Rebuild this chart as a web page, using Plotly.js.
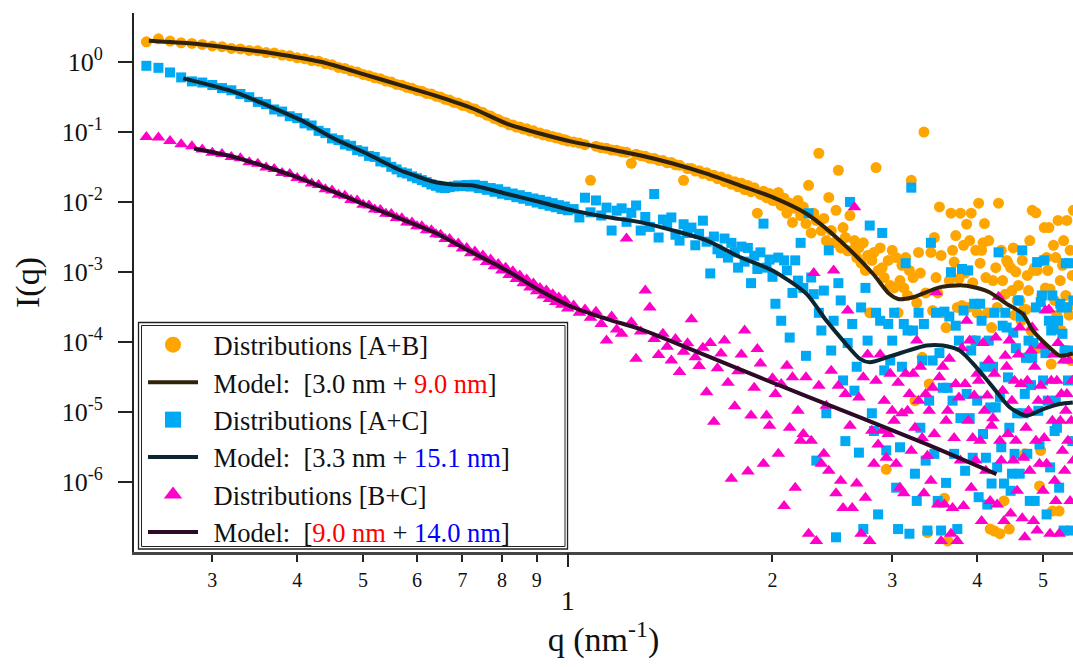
<!DOCTYPE html>
<html><head><meta charset="utf-8">
<script src="https://cdn.plot.ly/plotly-3.0.1.min.js"></script>
<style>html,body{margin:0;padding:0;background:#fff;}#chart{width:1073px;height:667px;}</style>
</head><body><div id="chart"></div>
<script>
// ---------- measured q grid (nm^-1) ----------
const qLow = [0.24,0.25,0.26,0.27,0.28,0.29,0.30,0.31,0.32,0.33,0.34,0.35,0.36,0.37,0.38,0.39,0.40,0.41,0.42,0.43,
0.44,0.45,0.46,0.47,0.48,0.49,0.50,0.51,0.52,0.53,0.54,0.55,0.56,0.57,0.58,0.59,0.60,0.61,0.62,0.63,
0.64,0.65,0.66,0.67,0.68,0.69,0.70,0.71,0.72,0.73,0.74,0.75,0.76,0.77,0.78,0.79,0.80,0.81,0.82,0.83,
0.84,0.85,0.86,0.87,0.88,0.89,0.90,0.91,0.92,0.93,0.94,0.95,0.96,0.97,0.98,0.99,1.00];
const qMid = [1.02,1.04,1.06,1.08,1.10,1.12,1.14,1.16,1.18,1.20,1.22,1.24,1.26,1.28,1.30,1.32,1.34,1.36,1.38,1.40,
1.42,1.44,1.46,1.48,1.50,1.52,1.54,1.56,1.58,1.60,1.62,1.64,1.66,1.68,1.70,1.72,1.74,1.76,1.78,1.80,
1.82,1.84,1.86,1.88,1.90,1.92,1.94,1.96,1.98,2.00];
const qHigh = [2.02,2.04,2.06,2.08,2.10,2.12,2.14,2.16,2.18,2.20,2.22,2.24,2.26,2.28,2.30,2.32,2.34,2.36,2.38,2.40,
2.42,2.44,2.46,2.48,2.50,2.52,2.54,2.56,2.58,2.60,2.62,2.64,2.66,2.68,2.70,2.72,2.74,2.76,2.78,2.80,
2.82,2.84,2.86,2.88,2.90,2.92,2.94,2.96,2.98,3.00,3.02,3.04,3.06,3.08,3.10,3.12,3.14,3.16,3.18,3.20,
3.22,3.24,3.26,3.28,3.30,3.32,3.34,3.36,3.38,3.40,3.42,3.44,3.46,3.48,3.50,3.52,3.54,3.56,3.58,3.60,
3.62,3.64,3.66,3.68,3.70,3.72,3.74,3.76,3.78,3.80,3.82,3.84,3.86,3.88,3.90,3.92,3.94,3.96,3.98,4.00,
4.02,4.04,4.06,4.08,4.10,4.12,4.14,4.16,4.18,4.20,4.22,4.24,4.26,4.28,4.30,4.32,4.34,4.36,4.38,4.40,
4.42,4.44,4.46,4.48,4.50,4.52,4.54,4.56,4.58,4.60,4.62,4.64,4.66,4.68,4.70,4.72,4.74,4.76,4.78,4.80,
4.82,4.84,4.86,4.88,4.90,4.92,4.94,4.96,4.98,5.00,5.02,5.04,5.06,5.08,5.10,5.12,5.14,5.16,5.18,5.20,
5.22,5.24,5.26,5.28,5.30,5.32,5.34,5.36,5.38,5.40,5.42,5.44,5.46,5.48,5.50,5.52,5.54];

// ---------- Distributions [A+B] ----------
const iABLow = [1.95,2.15,2.00,1.89,1.85,1.79,1.70,1.66,1.57,1.54,1.47,1.45,1.37,1.35,1.26,1.23,1.15,1.12,1.05,1.03,
0.955,0.915,0.84,0.81,0.75,0.72,0.665,0.640,0.595,0.578,0.535,0.520,0.480,0.468,0.436,0.422,0.393,0.384,0.356,0.350,
0.325,0.316,0.294,0.286,0.265,0.259,0.240,0.236,0.219,0.214,0.196,0.190,0.174,0.170,0.156,0.151,0.140,0.137,0.127,0.126,
0.118,0.118,0.110,0.111,0.103,0.104,0.0970,0.0965,0.0912,0.0915,0.0868,0.0862,0.0825,0.0818,0.0782,0.0775,0.0742];
const iABMid = [0.0722,0.0695,0.0660,0.0204,0.0628,0.0595,0.0585,0.0552,0.0548,0.0521,0.0512,0.0357,0.0482,0.0458,0.0450,0.0420,0.0418,0.0392,0.0390,0.0362,
0.0365,0.0340,0.0335,0.0204,0.0300,0.0302,0.0276,0.0280,0.0255,0.0262,0.0236,0.0240,0.0215,0.0228,0.0196,0.0210,0.0180,0.0195,0.0165,0.0185,
0.0150,0.0172,0.0140,0.0160,6.9e-3,0.0128,0.0142,0.0115,0.0132,0.0105];
const iABHigh = [1.05e-2,1.37e-2,8.9e-3,1.13e-2,6.9e-3,9.6e-3,5.1e-3,8.1e-3,1.05e-2,6.4e-3,
8.5e-3,4.9e-3,1.73e-2,3.6e-3,6.9e-3,5.45e-3,4.97e-2,3.9e-3,5.8e-3,2.8e-3,
1.16e-2,3.9e-3,2.6e-3,7.6e-3,2.84e-2,2.2e-3,4.3e-3,3.1e-3,2.0e-3,6.4e-3,
2.03e-3,2.8e-3,1.6e-3,2.2e-3,1.33e-3,2.6e-3,1.05e-3,1.72e-3,2.6e-4,1.46e-3,
1.9e-3,3.1e-2,1.05e-3,2.2e-3,1.15e-3,8.3e-4,1.5e-6,1.46e-3,6.4e-4,2.03e-3,
5.9e-4,1.6e-3,2.6e-4,7.5e-4,1.24e-3,5.9e-4,1.6e-3,4.6e-4,1.05e-3,2.04e-2,
8.3e-4,1.44e-5,3.6e-4,1.9e-3,9.6e-4,6.0e-5,0.1,5.0e-4,1.87e-7,2.5e-5,
1.9e-3,2.8e-4,3.1e-3,8.3e-4,5.0e-4,8.5e-3,1.72e-3,2.6e-4,5.8e-7,1.6e-4,
1.42e-7,7.5e-4,6.9e-3,2.03e-3,1.38e-3,3.3e-3,3.1e-4,8.0e-4,6.9e-3,3.3e-4,
2.4e-3,9.6e-4,4.8e-3,3.1e-4,2.8e-3,6.9e-3,7.0e-4,1.04e-4,2.03e-3,2.6e-4,
9.6e-3,1.33e-3,2.03e-3,2.6e-3,4.9e-3,8.3e-4,2.6e-4,2.8e-3,2.1e-7,1.6e-4,
7.5e-4,1.97e-7,1.15e-3,3.1e-4,9.6e-3,1.8e-7,2.03e-3,7.5e-4,5.3e-7,4.8e-4,
1.46e-3,1.33e-3,2.1e-7,1.15e-3,5.4e-4,2.2e-3,2.4e-4,1.0e-3,3.9e-4,6.4e-4,
3.9e-4,2.0e-4,1.46e-3,2.9e-4,2.5e-6,2.9e-4,8.9e-4,5.4e-4,2.8e-3,1.45e-4,
7.6e-3,1.05e-3,1.15e-3,7.0e-3,1.05e-3,8.1e-5,8.7e-7,2.8e-6,4.6e-4,1.46e-3,
4.3e-3,5.9e-4,1.6e-3,1.05e-3,4.3e-3,5.7e-4,4.8e-5,3.8e-7,2.4e-3,3.9e-4,
1.6e-3,2.4e-4,5.45e-3,3.8e-7,7.5e-4,1.45e-4,1.24e-3,2.8e-3,7.5e-5,4.6e-4,
5.45e-3,3.1e-4,2.4e-4,2.03e-3,5.4e-5,8.9e-4,7.6e-3];

// ---------- Distributions [A+C] ----------
const iACLow = [0.885,0.828,0.711,0.604,0.530,0.510,0.470,0.425,0.395,0.350,0.315,0.270,0.250,0.210,0.196,0.168,0.158,0.133,0.124,0.104,
0.0965,0.0810,0.0765,0.0665,0.0635,0.0550,0.0525,0.0455,0.0440,0.0380,0.0368,0.0318,0.0292,0.0265,0.0255,0.0232,0.0218,0.0205,0.0192,0.0178,
0.0170,0.0160,0.0158,0.0163,0.0167,0.0172,0.0168,0.0175,0.0166,0.0176,0.0158,0.0170,0.0149,0.0158,0.0140,0.0152,0.0131,0.0140,0.0125,0.0132,
0.0117,0.0125,0.0111,0.0118,0.0104,0.0112,0.0098,0.0107,0.0093,0.0101,0.0088,0.0096,0.0084,0.0090,0.0079,0.0086,0.0076];
const iACMid = [7.9e-3,6.0e-3,1.15e-2,7.1e-3,1.05e-2,6.4e-3,8.3e-3,3.9e-3,7.5e-3,8.1e-3,5.2e-3,7.0e-3,8.9e-3,3.9e-3,6.1e-3,4.4e-3,1.3e-2,3.1e-3,5.6e-3,4.7e-3,
6.0e-3,3.4e-3,2.8e-3,4.8e-3,3.6e-3,4.3e-3,2.4e-3,3.5e-3,5.4e-3,2.7e-3,9.5e-4,3.2e-3,2.1e-3,1.85e-3,3.0e-3,1.6e-3,2.6e-3,1.9e-3,1.15e-3,2.3e-3,
1.4e-3,2.2e-3,6.9e-4,1.7e-3,1.1e-3,1.9e-3,4.9e-3,1.15e-3,1.5e-3,8.5e-4];
const iACHigh = [3.5e-4,1.6e-3,2.0e-4,1.46e-3,1.05e-3,1.15e-4,5.0e-4,1.46e-3,7.5e-4,2.6e-3,
5.9e-4,6.3e-5,6.9e-3,8.3e-4,4.8e-4,2.0e-6,2.6e-4,1.45e-4,5.4e-4,9.5e-6,
2.03e-3,7.5e-5,2.0e-4,1.6e-7,6.9e-4,3.9e-4,2.8e-5,3.8e-6,9.6e-5,1.0e-2,
1.8e-4,2.0e-5,4.4e-5,2.6e-6,3.1e-4,2.1e-7,5.9e-4,1.04e-4,4.6e-3,9.5e-6,
5.3e-6,2.6e-4,3.4e-7,2.0e-4,3.6e-3,3.9e-5,2.8e-6,1.8e-4,5.4e-5,1.04e-4,
2.6e-4,8.2e-7,2.1e-7,3.1e-6,4.4e-5,1.8e-4,1.33e-3,1.45e-4,1.8e-7,1.6e-2,
1.45e-4,1.3e-6,5.3e-7,2.6e-4,5.9e-6,5.4e-5,1.8e-4,2.0e-6,2.0e-7,1.44e-5,
2.6e-3,5.4e-5,2.5e-6,2.6e-4,5.3e-7,6.9e-5,2.0e-7,2.2e-5,2.7e-4,9.6e-7,
2.2e-5,2.3e-4,9.9e-4,1.44e-5,2.5e-6,1.7e-4,2.1e-7,1.04e-4,8.1e-6,1.1e-3,
2.8e-4,1.43e-6,1.8e-5,1.05e-3,8.1e-6,7.5e-5,2.2e-6,3.5e-4,1.04e-4,1.44e-5,
6.0e-7,3.5e-4,2.0e-4,4.8e-6,4.4e-5,2.2e-6,4.7e-7,1.04e-4,1.15e-5,9.4e-7,
4.4e-5,2.6e-4,1.15e-5,1.6e-6,1.9e-3,1.6e-5,3.1e-6,1.7e-4,9.4e-7,2.6e-4,
1.6e-4,3.1e-5,5.9e-6,7.4e-7,1.3e-6,1.35e-4,2.5e-6,8.1e-5,9.5e-6,3.9e-4,
1.3e-6,2.3e-4,2.03e-3,9.5e-6,1.8e-5,5.9e-5,2.5e-6,1.04e-4,5.3e-7,2.4e-5,
5.9e-5,9.6e-5,5.3e-7,3.1e-4,1.38e-3,1.03e-5,3.4e-6,3.7e-4,4.6e-4,2.8e-5,
1.46e-3,6.9e-5,3.4e-7,1.44e-5,2.0e-4,1.6e-6,1.45e-4,4.6e-4,1.5e-4,5.3e-6,
1.44e-5,5.9e-6,2.0e-4,8.2e-7,3.5e-4,3.1e-4,1.3e-4,2.0e-7,7.5e-5,1.33e-3,
3.1e-4,2.8e-5,1.33e-3,7.5e-5,2.0e-7,3.8e-6,3.9e-4];

// ---------- Distributions [B+C] ----------
const iBCLow = [0.0851,0.0834,0.0745,0.0669,0.0626,0.0560,0.0505,0.0485,0.0440,0.0420,0.0370,0.0352,0.0312,0.0296,0.0260,0.0250,0.0220,0.0208,0.0183,0.0175,
0.0152,0.0146,0.0127,0.0123,0.0107,0.0105,9.1e-3,8.9e-3,7.8e-3,7.7e-3,6.8e-3,6.7e-3,5.9e-3,5.85e-3,5.1e-3,5.1e-3,4.5e-3,4.5e-3,3.95e-3,3.95e-3,
3.45e-3,3.4e-3,2.95e-3,2.95e-3,2.5e-3,2.55e-3,2.15e-3,2.2e-3,1.85e-3,1.95e-3,1.6e-3,1.72e-3,1.38e-3,1.5e-3,1.2e-3,1.3e-3,1.05e-3,1.15e-3,9.0e-4,1.02e-3,
7.9e-4,8.9e-4,6.9e-4,7.8e-4,6.0e-4,6.8e-4,5.3e-4,5.9e-4,4.6e-4,5.4e-4,4.1e-4,4.8e-4,3.7e-4,4.3e-4,3.4e-4,3.9e-4,3.0e-4];
const iBCMid = [3.3e-4,2.6e-4,2.9e-4,2.2e-4,2.7e-4,1.8e-4,1.04e-4,2.3e-4,1.5e-4,1.3e-4,3.0e-3,1.9e-4,5.7e-5,1.4e-4,5.4e-4,3.1e-4,1.1e-4,6.5e-5,1.3e-4,8.5e-5,
5.4e-5,1.1e-4,3.7e-5,7.2e-5,9.5e-5,2.1e-4,6.0e-5,4.5e-5,8.2e-5,1.9e-5,9.6e-5,7.2e-6,4.2e-5,6.8e-5,1.04e-4,2.6e-5,1.1e-6,1.2e-5,3.8e-5,6.6e-5,
1.45e-4,1.4e-6,8.8e-6,2.2e-5,7.9e-5,4.9e-5,1.8e-6,8.8e-6,6.3e-6,3.0e-5];
const iBCHigh = [1.8e-5,2.5e-6,2.5e-5,4.5e-7,4.56e-5,5.9e-6,3.1e-5,8.2e-7,1.03e-5,3.84e-6,
4.8e-6,3.1e-5,1.8e-7,3.84e-6,9.6e-4,1.42e-7,2.36e-5,1.8e-6,2.5e-6,1.22e-5,
1.43e-6,3.87e-5,1.05e-3,6.8e-7,2.36e-5,1.03e-6,4.2e-7,1.8e-5,2.8e-4,6.3e-6,
4.2e-7,8.4e-3,9.4e-7,1.6e-5,1.8e-7,3.1e-5,5.9e-7,6.6e-5,1.42e-7,5.34e-6,
1.8e-6,2.78e-5,3.4e-6,6.6e-5,5.34e-6,1.44e-5,2.2e-6,4.8e-6,3.5e-5,1.03e-5,
7.4e-6,1.8e-6,2.6e-5,8.2e-7,9.5e-6,6.8e-7,3.5e-5,1.03e-5,1.8e-5,2.76e-6,
3.5e-5,5.9e-6,1.04e-4,1.44e-5,4.4e-5,4.2e-6,6.8e-7,1.8e-5,2.34e-6,1.03e-5,
1.03e-6,2.2e-5,4.8e-6,5.1e-4,4.7e-7,3.1e-5,1.42e-7,4.4e-5,4.7e-7,7.4e-6,
1.03e-5,5.7e-5,1.8e-7,4.2e-7,4.2e-6,2.5e-5,1.42e-7,1.6e-5,2.0e-6,8.1e-5,
4.5e-7,2.5e-5,2.0e-4,7.4e-6,1.04e-4,8.2e-7,4.2e-6,1.7e-5,2.0e-6,3.5e-5,
2.78e-5,3.84e-6,2.74e-7,9.6e-5,1.03e-5,1.43e-6,1.7e-5,5.4e-5,5.3e-7,6.3e-6,
8.1e-6,3.5e-5,1.15e-4,4.7e-7,4.4e-4,3.84e-6,2.0e-6,2.0e-5,2.74e-7,6.3e-5,
4.4e-5,4.8e-6,1.04e-4,3.5e-7,1.44e-5,2.0e-6,2.78e-5,3.84e-6,7.4e-7,6.6e-5,
1.6e-4,2.5e-5,3.0e-7,2.2e-6,1.6e-7,5.9e-6,2.78e-5,1.03e-5,1.43e-6,7.5e-5,
1.6e-4,2.74e-7,4.4e-5,3.84e-6,2.0e-7,1.44e-5,1.8e-6,2.36e-5,8.8e-5,7.4e-7,
4.2e-6,2.8e-4,1.8e-6,1.44e-5,2.9e-4,1.8e-7,2.78e-5,7.4e-6,6.6e-5,1.03e-6,
5.3e-7,2.78e-5,9.6e-5,1.8e-7,7.4e-6,1.8e-5,2.76e-6,5.4e-5,1.43e-6,1.03e-5,
1.8e-5,3.84e-6,5.4e-5,5.3e-7,7.4e-6,2.78e-5,2.0e-6];

// ---------- model curves ----------
const modelABq = [0.242,0.28,0.323,0.370,0.433,0.506,0.567,0.635,0.725,0.813,0.910,1.017,1.140,1.276,1.427,1.600,1.790,2.00,2.244,2.512,
2.81,2.97,3.06,3.21,3.52,3.81,4.04,4.17,4.42,4.67,4.83,5.11,5.29,5.53];
const modelABi = [2.02,1.84,1.57,1.33,1.01,0.652,0.468,0.337,0.217,0.132,0.0952,0.0722,0.0580,0.0465,0.0354,0.0254,0.0173,0.0117,6.79e-3,2.82e-3,
9.4e-4,4.85e-4,4.1e-4,4.3e-4,6.0e-4,6.4e-4,5.73e-4,5.1e-4,3.49e-4,2.5e-4,1.45e-4,8.3e-5,6.34e-5,6.8e-5];
const modelACq = [0.272,0.323,0.361,0.405,0.453,0.506,0.567,0.600,0.635,0.675,0.725,0.813,0.910,1.017,1.140,1.276,1.427,1.600,1.790,2.00,2.244,2.40,
2.54,2.69,2.78,3.00,3.37,3.56,3.77,3.99,4.22,4.47,4.73,5.00,5.29,5.53];
const modelACi = [0.584,0.375,0.242,0.148,0.0807,0.0492,0.0284,0.0233,0.0194,0.0178,0.0172,0.0131,9.97e-3,7.58e-3,6.08e-3,5.15e-3,3.92e-3,2.82e-3,1.63e-3,1.05e-3,4.85e-4,2.01e-4,
1.04e-4,5.69e-5,5.08e-5,6.34e-5,8.83e-5,8.83e-5,7.48e-5,4.31e-5,2.23e-5,1.15e-5,8.77e-6,1.09e-5,1.29e-5,1.36e-5];
const modelBCq = [0.282,0.323,0.361,0.405,0.453,0.506,0.567,0.635,0.710,0.813,0.910,1.017,1.140,1.276,1.389,1.915,2.69,3.37,4.27];
const modelBCi = [0.0580,0.0440,0.0316,0.0216,0.0139,8.93e-3,5.77e-3,3.71e-3,2.09e-3,1.05e-3,5.42e-4,3.12e-4,2.13e-4,1.53e-4,1.11e-4,3.10e-5,8.28e-6,3.44e-6,1.28e-6];

// ---------- labels ----------
const legendNames = [
  'Distributions [A+B]',
  'Model:\u00a0\u00a0[3.0 nm + <span style="color:#ff0000">9.0 nm</span>]',
  'Distributions [A+C]',
  'Model:\u00a0\u00a0[3.3 nm + <span style="color:#0000ff">15.1 nm</span>]',
  'Distributions [B+C]',
  'Model:\u00a0\u00a0[<span style="color:#ff0000">9.0 nm</span> + <span style="color:#0000ff">14.0 nm</span>]'
];
const xMinorVals = [0.3,0.4,0.5,0.6,0.7,0.8,0.9,2,3,4,5];
const xMinorText = ['3','4','5','6','7','8','9','2','3','4','5'];
const yTickVals = [1,0.1,0.01,1e-3,1e-4,1e-5,1e-6];
const yTickText = ['10<sup>0</sup>','10<sup>-1</sup>','10<sup>-2</sup>','10<sup>-3</sup>','10<sup>-4</sup>','10<sup>-5</sup>','10<sup>-6</sup>'];

// ---------- build ----------
const q = qLow.concat(qMid, qHigh);
const iAB = iABLow.concat(iABMid, iABHigh);
const iAC = iACLow.concat(iACMid, iACHigh);
const iBC = iBCLow.concat(iBCMid, iBCHigh);

const FONT = 'Liberation Serif, Times New Roman, serif';
const colAB = '#FFA500', colAC = '#00A9F4', colBC = '#FF00C8';
const lnAB = '#30220A', lnAC = '#0B2631', lnBC = '#2C0A28';
const pad = '\u2009\u2009';

const traces = [
  {type:'scatter', mode:'markers', x:q, y:iAB, showlegend:false, hoverinfo:'skip',
   marker:{symbol:'circle', size:11, color:colAB, line:{width:0}}},
  {type:'scatter', mode:'markers', x:q, y:iAC, showlegend:false, hoverinfo:'skip',
   marker:{symbol:'square', size:10, color:colAC, line:{width:0}}},
  {type:'scatter', mode:'markers', x:q, y:iBC, showlegend:false, hoverinfo:'skip',
   marker:{symbol:'triangle-up', size:12, color:colBC, line:{width:0}}},
  {type:'scatter', mode:'lines', x:modelABq, y:modelABi, xaxis:'x2', showlegend:false, hoverinfo:'skip',
   line:{color:lnAB, width:4, shape:'spline', smoothing:0.7}},
  {type:'scatter', mode:'lines', x:modelACq, y:modelACi, xaxis:'x2', showlegend:false, hoverinfo:'skip',
   line:{color:lnAC, width:4, shape:'spline', smoothing:0.7}},
  {type:'scatter', mode:'lines', x:modelBCq, y:modelBCi, xaxis:'x2', showlegend:false, hoverinfo:'skip',
   line:{color:lnBC, width:4, shape:'spline', smoothing:0.7}},
  // legend entries
  {type:'scatter', mode:'markers', x:[null], y:[null], name:pad+legendNames[0], marker:{symbol:'circle', size:17, color:colAB}},
  {type:'scatter', mode:'lines', x:[null], y:[null], name:pad+legendNames[1], line:{color:lnAB, width:4}},
  {type:'scatter', mode:'markers', x:[null], y:[null], name:pad+legendNames[2], marker:{symbol:'square', size:17, color:colAC}},
  {type:'scatter', mode:'lines', x:[null], y:[null], name:pad+legendNames[3], line:{color:lnAC, width:4}},
  {type:'scatter', mode:'markers', x:[null], y:[null], name:pad+legendNames[4], marker:{symbol:'triangle-up', size:17, color:colBC}},
  {type:'scatter', mode:'lines', x:[null], y:[null], name:pad+legendNames[5], line:{color:lnBC, width:4}}
];

const xRange = [-0.638, 0.743];
const layout = {
  width:1073, height:667,
  margin:{l:134, r:0, t:13, b:115},
  paper_bgcolor:'#fff', plot_bgcolor:'#fff',
  font:{family:FONT, color:'#111'},
  showlegend:true,
  xaxis:{type:'log', range:xRange, showgrid:false, zeroline:false,
    showline:true, linecolor:'#444', linewidth:2.5,
    ticks:'outside', ticklen:7, tickwidth:2, tickcolor:'#222',
    tickvals:xMinorVals, ticktext:xMinorText, ticklabelstandoff:1,
    tickfont:{family:FONT, size:20, color:'#111'},
    title:{text:'q (nm<sup>-1</sup>)', font:{family:FONT, size:34, color:'#111'}, standoff:38}},
  xaxis2:{type:'log', range:xRange, overlaying:'x', anchor:'y', side:'bottom',
    showgrid:false, zeroline:false, showline:false,
    ticks:'outside', ticklen:14, tickwidth:2, tickcolor:'#222',
    tickvals:[1], ticktext:['1'], ticklabelstandoff:9,
    tickfont:{family:FONT, size:28, color:'#111'}},
  yaxis:{type:'log', range:[-7.006, 0.702], showgrid:false, zeroline:false,
    showline:true, linecolor:'#222', linewidth:2,
    ticks:'outside', ticklen:14, tickwidth:2, tickcolor:'#222',
    tickvals:yTickVals, ticktext:yTickText, ticklabelstandoff:10,
    tickfont:{family:FONT, size:26, color:'#111'},
    title:{text:'I(q)', font:{family:FONT, size:34, color:'#111'}, standoff:12}},
  legend:{x:0.0096, y:0.4286, xanchor:'left', yanchor:'top',
    bgcolor:'rgba(0,0,0,0)', borderwidth:0, itemwidth:50, tracegroupgap:0,
    font:{family:FONT, size:26.5, color:'#111'}},
  shapes:[
    {type:'rect', xref:'paper', yref:'paper', x0:0.0048, x1:0.4617, y0:0.0056, y1:0.4258,
     fillcolor:'#ffffff', line:{color:'#222', width:1.3}, layer:'above'},
    {type:'rect', xref:'paper', yref:'paper', x0:0.0080, x1:0.4590, y0:0.0102, y1:0.4202,
     fillcolor:'rgba(0,0,0,0)', line:{color:'#222', width:1}, layer:'above'}
  ]
};

Plotly.newPlot('chart', traces, layout, {displayModeBar:false, staticPlot:true});
</script>
</body></html>
